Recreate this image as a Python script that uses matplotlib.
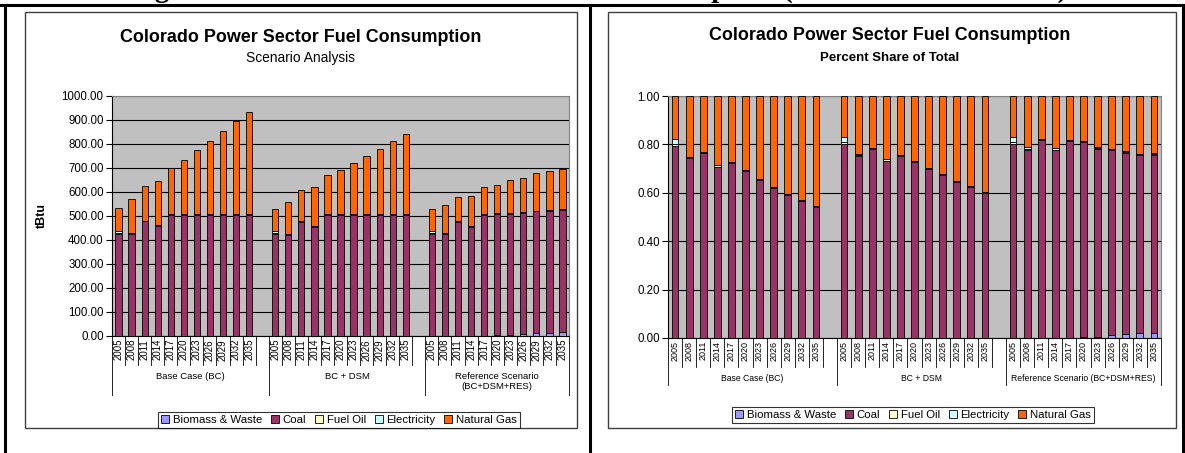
import numpy as np
import matplotlib
matplotlib.use("Agg")
import matplotlib.pyplot as plt
from matplotlib.patches import Rectangle, Patch
from matplotlib.lines import Line2D

plt.rcParams['font.family'] = ['Liberation Sans', 'DejaVu Sans']

W, H = 1185, 453

# ========== data (tBtu) ==========
years = ['2005', '2008', '2011', '2014', '2017', '2020', '2023', '2026', '2029', '2032', '2035']
scenarios = ['Base Case (BC)', 'BC + DSM', 'Reference Scenario (BC+DSM+RES)']
fuels = ['Biomass & Waste', 'Coal', 'Fuel Oil', 'Electricity', 'Natural Gas']
colors = ['#9999FF', '#993366', '#FFFFCC', '#CCFFFF', '#FF6600']

biomass_bc = [0.3, 0.3, 0.3, 0.3, 0.3, 0.3, 0.3, 0.3, 0.3, 0.3, 0.3]
biomass_dsm = [0.3, 0.3, 0.3, 0.3, 0.3, 0.3, 0.3, 0.3, 0.3, 0.3, 0.3]
biomass_ref = [0.3, 0.3, 0.3, 0.5, 1.0, 2.5, 4.0, 7.0, 11.0, 14.0, 15.0]

coal_bc = [425, 424, 477, 456, 505, 505, 505, 505, 505, 505, 505]
coal_dsm = [424, 422, 475, 455, 504, 504, 504, 504, 504, 504, 504]
coal_ref = [424, 424, 475, 454, 505, 506, 503, 505, 508, 508, 511]

fueloil_bc = [3, 2, 2, 4, 3, 3, 3, 3, 3, 3, 3]
fueloil_dsm = [3, 2, 2, 4, 3, 3, 3, 3, 3, 3, 3]
fueloil_ref = [3, 2, 2, 4, 3, 3, 3, 3, 3, 3, 4]

elec_bc = [11, 1, 0.5, 0.5, 0.5, 0.5, 0.5, 0.5, 0.5, 0.5, 0.5]
elec_dsm = [11, 1, 0.5, 0.5, 0.5, 0.5, 0.5, 0.5, 0.5, 0.5, 0.5]
elec_ref = [11, 3, 0.5, 0.5, 0.5, 0.5, 0.5, 0.5, 0.5, 0.5, 0.5]

gas_bc = [96, 143, 145, 184, 191, 225, 265, 305, 345, 386, 423]
gas_dsm = [90, 135, 132, 161, 163, 185, 215, 241, 273, 303, 335]
gas_ref = [90, 116, 103, 126, 112, 116, 138, 144, 155, 164, 165]

series = [
    biomass_bc + biomass_dsm + biomass_ref,
    coal_bc + coal_dsm + coal_ref,
    fueloil_bc + fueloil_dsm + fueloil_ref,
    elec_bc + elec_dsm + elec_ref,
    gas_bc + gas_dsm + gas_ref,
]
values = np.array(series, dtype=float)
shares = values / values.sum(axis=0)

# slot positions: 11 years per group, one empty slot between groups
group_start = [0, 12, 24]
xpos = np.concatenate([np.arange(len(years)) + s for s in group_start])


def px_axes(fig, x0, y0, x1, y1):
    return fig.add_axes([x0 / W, 1 - y1 / H, (x1 - x0) / W, (y1 - y0) / H])


def stacked(ax, data):
    bottom = np.zeros(data.shape[1])
    for k in range(data.shape[0]):
        ax.bar(xpos, data[k], 0.48, bottom=bottom, color=colors[k],
               edgecolor='black', linewidth=0.6, zorder=3)
        bottom += data[k]


def style_axes(ax):
    ax.set_facecolor('#C0C0C0')
    ax.set_xlim(-0.5, 34.5)
    ax.grid(axis='y', color='black', linewidth=0.8, zorder=1)
    ax.set_xticks([])
    for s in ['top', 'right']:
        ax.spines[s].set_color('#808080')
        ax.spines[s].set_linewidth(0.8)
    for s in ['left', 'bottom']:
        ax.spines[s].set_color('black')
        ax.spines[s].set_linewidth(0.8)
    ax.tick_params(axis='y', direction='out', length=4, width=0.8,
                   labelsize=8.3, pad=2)


def categories(ax, ax_h, group_labels, year_fs, group_fs, short_px, long_px, label_px):
    tr = ax.get_xaxis_transform()
    for g, s in enumerate(group_start):
        for i, yr in enumerate(years):
            ax.text(s + i, -3 / ax_h, yr, transform=tr, rotation=90, ha='center',
                    va='top', fontsize=year_fs, clip_on=False)
            xb = s + i + 0.5
            if xb != 34.5:
                ax.plot([xb, xb], [0, -short_px / ax_h], transform=tr, color='black',
                        lw=0.6, clip_on=False)
        ax.text((s - 0.5 + min(s + 11.5, 34.5)) / 2, -label_px / ax_h, group_labels[g],
                transform=tr, ha='center', va='top', fontsize=group_fs,
                linespacing=1.1, clip_on=False)
    for xb in [-0.5, 11.5, 23.5, 34.5]:
        ax.plot([xb, xb], [0, -long_px / ax_h], transform=tr, color='black',
                lw=0.6, clip_on=False)


fig = plt.figure(figsize=(W / 100, H / 100), dpi=100)

# page table lines and chart frames
fig.add_artist(Line2D([0, 1], [1 - 5 / H, 1 - 5 / H], color='black', lw=2.2))
for xl in [5, 590, 1183]:
    fig.add_artist(Line2D([xl / W, xl / W], [0, 1 - 5 / H], color='black', lw=2.2))
for x0, x1 in [(25, 577), (608, 1176)]:
    fig.add_artist(Rectangle((x0 / W, 1 - 428 / H), (x1 - x0) / W, (428 - 12) / H,
                             fill=False, edgecolor='#404040', lw=1.0))
# page heading above the charts, cut off by the top edge of the screenshot
fig.text(129 / W, 1 + 3 / H, 'Figure 2: Colorado Power Sector Fuel Consumption (Scenarios and Shares)',
         fontfamily='Liberation Serif', fontweight='bold', fontsize=21, va='baseline', ha='left')

handles = [Patch(facecolor=c, edgecolor='black', linewidth=0.6) for c in colors]

# ========== left: tBtu ==========
ax1 = px_axes(fig, 112, 96, 569, 336)
style_axes(ax1)
stacked(ax1, values)
ax1.set_ylim(0, 1000)
ax1.set_yticks(np.arange(0, 1001, 100))
ax1.yaxis.set_major_formatter(plt.FormatStrFormatter('%.2f'))
categories(ax1, 240, ['Base Case (BC)', 'BC + DSM', 'Reference Scenario\n(BC+DSM+RES)'],
           7, 6.8, 29, 59, 36)
fig.text(42 / W, 1 - 216 / H, 'tBtu', rotation=90, fontweight='bold', fontsize=9,
         ha='center', va='center')
fig.text(301 / W, 1 - 37 / H, 'Colorado Power Sector Fuel Consumption', fontweight='bold',
         fontsize=12.9, ha='center', va='center')
fig.text(301 / W, 1 - 58 / H, 'Scenario Analysis', fontsize=9.9, ha='center', va='center')
fig.legend(handles, fuels, loc='center', bbox_to_anchor=(339 / W, 1 - 420 / H), ncol=5,
           fontsize=8.2, frameon=True, fancybox=False, edgecolor='black', borderpad=0.25,
           handlelength=0.7, handleheight=0.7, handletextpad=0.3, columnspacing=0.8,
           borderaxespad=0).get_frame().set_linewidth(0.8)

# ========== right: share ==========
ax2 = px_axes(fig, 668, 96, 1161, 338)
style_axes(ax2)
stacked(ax2, shares)
ax2.set_ylim(0, 1)
ax2.set_yticks(np.arange(0, 1.01, 0.2))
ax2.yaxis.set_major_formatter(plt.FormatStrFormatter('%.2f'))
categories(ax2, 242, scenarios, 6.5, 6.2, 29, 47, 36)
fig.text(890 / W, 1 - 36 / H, 'Colorado Power Sector Fuel Consumption', fontweight='bold',
         fontsize=12.9, ha='center', va='center')
fig.text(890 / W, 1 - 58 / H, 'Percent Share of Total', fontweight='bold', fontsize=9.5,
         ha='center', va='center')
fig.legend(handles, fuels, loc='center', bbox_to_anchor=(913 / W, 1 - 415 / H), ncol=5,
           fontsize=8.2, frameon=True, fancybox=False, edgecolor='black', borderpad=0.25,
           handlelength=0.7, handleheight=0.7, handletextpad=0.3, columnspacing=0.8,
           borderaxespad=0).get_frame().set_linewidth(0.8)

fig.savefig('out.png', dpi=100)
